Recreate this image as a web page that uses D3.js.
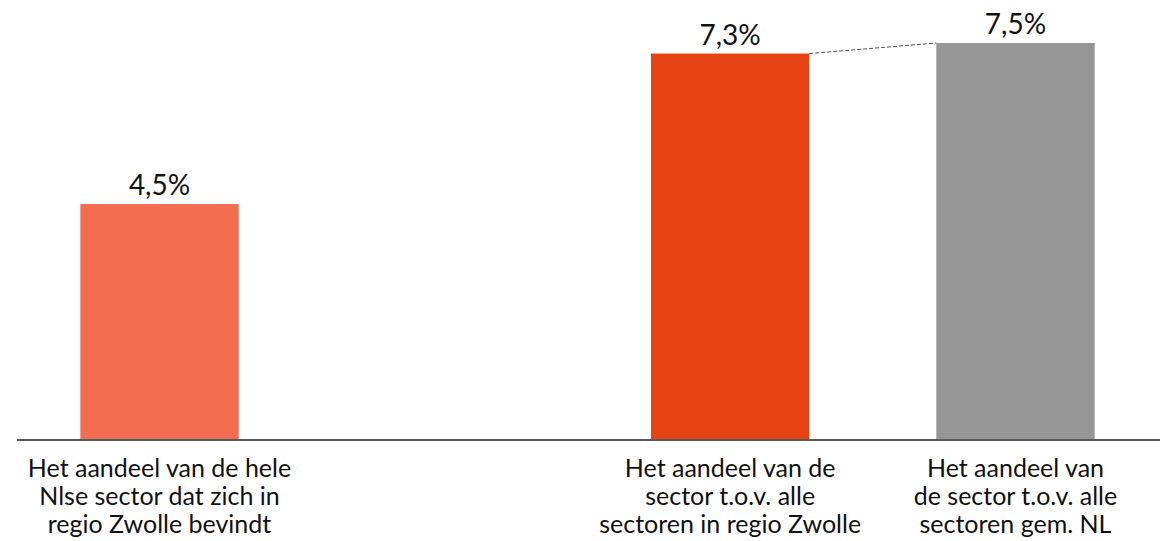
<!DOCTYPE html>
<html>
<head>
<meta charset="utf-8">
<script src="https://cdn.jsdelivr.net/npm/d3@7"></script>
<style>
  body { margin: 0; background: #fff; }
  svg { display: block; font-family: Lato, "Open Sans", sans-serif; }
</style>
</head>
<body>
<div id="chart"></div>
<script>
const categories = ['a', 'gap', 'b', 'c'];
const catLabels = [
  ['Het aandeel van de hele', 'Nlse sector dat zich in', 'regio Zwolle bevindt'],
  [],
  ['Het aandeel van de', 'sector t.o.v. alle', 'sectoren in regio Zwolle'],
  ['Het aandeel van', 'de sector t.o.v. alle', 'sectoren gem. NL']
];
const values = [4.45, null, 7.3, 7.5];
const valueLabels = ['4,5%', '', '7,3%', '7,5%'];
const colors = ['#F26C4F', 'none', '#E54311', '#969696'];

var width = 1164, height = 541;
var margin = { top: 43, bottom: 102, left: 17, right: 6 };

const svg = d3.select('#chart')
    .append('svg')
    .attr('width', width)
    .attr('height', height);

const x = d3.scaleBand()
    .domain(categories)
    .range([margin.left, width - margin.right])
    .paddingInner(0.445)
    .paddingOuter(0.222);

const y = d3.scaleLinear()
    .domain([0, 7.5])
    .range([height - margin.bottom, margin.top]);

const data = categories.map((c, i) => ({ cat: c, v: values[i], label: valueLabels[i], color: colors[i], lines: catLabels[i] }));
const bars = data.filter(d => d.v != null);

svg.append('g')
    .selectAll('rect')
    .data(bars)
    .join('rect')
    .attr('x', d => x(d.cat))
    .attr('y', d => y(d.v))
    .attr('width', x.bandwidth())
    .attr('height', d => y(0) - y(d.v))
    .attr('fill', d => d.color);

// dashed connector between the two right bars
svg.append('line')
    .attr('x1', x('b') + x.bandwidth())
    .attr('y1', y(7.3))
    .attr('x2', x('c'))
    .attr('y2', y(7.5))
    .attr('stroke', '#555')
    .attr('stroke-width', 1)
    .attr('stroke-dasharray', '4,2');

svg.append('g')
    .selectAll('text')
    .data(bars)
    .join('text')
    .attr('x', d => x(d.cat) + x.bandwidth() / 2)
    .attr('y', d => y(d.v) - 9)
    .attr('text-anchor', 'middle')
    .attr('font-size', '28px')
    .attr('fill', '#111')
    .text(d => d.label);

// baseline
svg.append('line')
    .attr('x1', 17)
    .attr('x2', width - 4)
    .attr('y1', y(0) + 1)
    .attr('y2', y(0) + 1)
    .attr('stroke', '#222')
    .attr('stroke-width', 1.5);

const lab = svg.append('g')
    .selectAll('text')
    .data(data)
    .join('text')
    .attr('text-anchor', 'middle')
    .attr('font-size', '25px')
    .attr('fill', '#111');

lab.selectAll('tspan')
    .data(d => d.lines.map(l => ({ l, cx: x(d.cat) + x.bandwidth() / 2 })))
    .join('tspan')
    .attr('x', d => d.cx)
    .attr('y', (d, i) => y(0) + 38 + i * 28)
    .text(d => d.l);
</script>
</body>
</html>
